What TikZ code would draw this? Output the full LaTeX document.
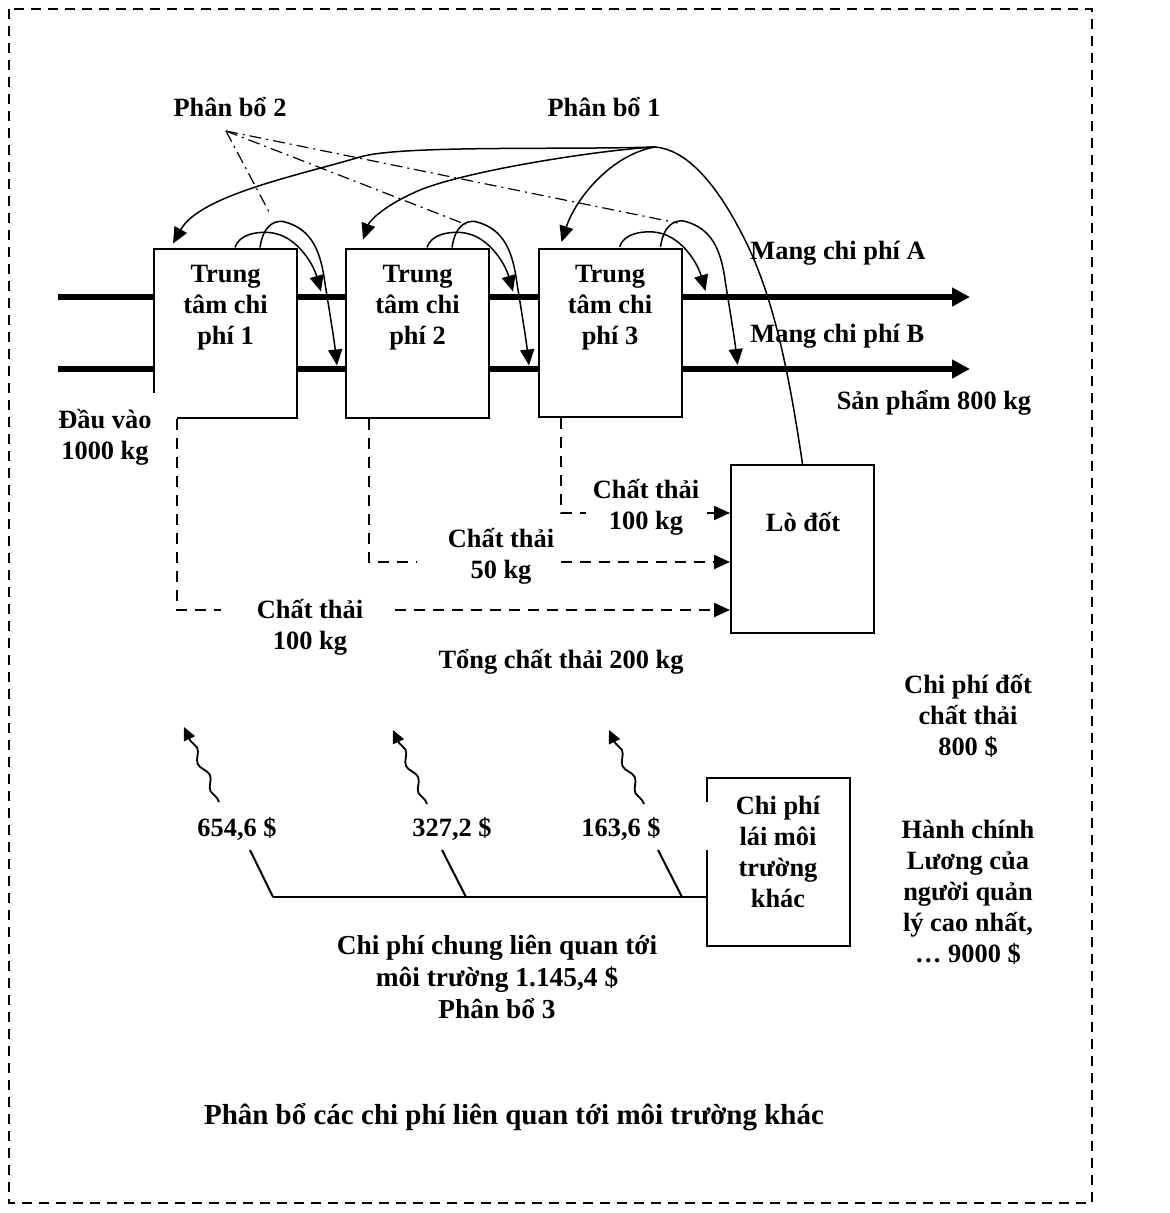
\documentclass[tikz,border=0pt]{standalone}
\usepackage{fontspec}
\setmainfont{Liberation Serif}
\usetikzlibrary{arrows.meta,calc,decorations.pathmorphing}
\begin{document}
\begin{tikzpicture}[x=0.5pt,y=-0.5pt,
 txt/.style={font=\fontsize{13.2}{15.5}\selectfont\bfseries,align=center,inner sep=0pt},
 box/.style={draw,line width=1pt,fill=white,minimum width=71.5pt,minimum height=84pt,inner sep=0pt},
 flowline/.style={line width=2.6pt,-{Triangle[length=9pt,width=9pt]}},
 curvy/.style={line width=0.75pt,-{Triangle[length=8pt,width=7pt]}},
 plaincurve/.style={line width=0.75pt},
 waste/.style={line width=1pt,dash pattern=on 5.5pt off 4pt},
 wastetip/.style={line width=1pt,dash pattern=on 5.5pt off 4pt,-{Triangle[length=8pt,width=7pt]}},
 dashdot/.style={line width=0.6pt,dash pattern=on 6pt off 2.5pt on 1pt off 2.5pt},
 thinline/.style={line width=1pt},
 wavy/.style={line width=0.9pt,decorate,decoration={snake,amplitude=1.6pt,segment length=15pt,pre length=2pt,post length=6pt},-{Triangle[length=6.5pt,width=6pt]}},
 frame/.style={line width=1.4pt,dash pattern=on 5pt off 3.5pt}]

\useasboundingbox (0,0) rectangle (1169,1213);
\draw[frame] (9,9) rectangle (1092,1203);

% main flows
\coordinate (inA) at (58,297);
\coordinate (outA) at (970,297);
\coordinate (inB) at (58,369);
\coordinate (outB) at (970,369);
\draw[flowline] (inA) -- (outA);
\draw[flowline] (inB) -- (outB);

% boxes
\node[box] (c1) at (225.5,333.5) {};
\node[box] (c2) at (417.5,333.5) {};
\node[box] (c3) at (610,333) {};
\node[box] (lo) at (802.5,549) {};
\node[box] (kh) at (778,862) {};
\fill[white] (147,393) rectangle (176.5,421);
\fill[white] (703,802) rectangle (709,850);

\node[txt] (c1t) at (225.5,308) {Trung\\tâm chi\\phí 1};
\node[txt] (c2t) at (417.5,308) {Trung\\tâm chi\\phí 2};
\node[txt] (c3t) at (610,308) {Trung\\tâm chi\\phí 3};
\node[txt] (lot) at (803,522) {Lò đốt};
\node[txt] (kht) at (778,852) {Chi phí\\lái môi\\trường\\khác};

% labels
\node[txt] (pb2) at (230,107) {Phân bổ 2};
\node[txt] (pb1) at (604,107) {Phân bổ 1};
\node[txt,anchor=west] (ma) at (750,253) {Mang chi phí A};
\node[txt,anchor=west] (mb) at (750,336) {Mang chi phí B};
\node[txt] (sp) at (934,403) {Sản phẩm 800 kg};
\node[txt] (dv) at (105,437) {Đầu vào\\1000 kg};
\node[txt] (tong) at (561,662) {Tổng chất thải 200 kg};
\node[txt] (cpd) at (968,716) {Chi phí đốt\\chất thải\\800 \$};
\node[txt] (hc) at (968,892) {Hành chính\\Lương của\\người quản\\lý cao nhất,\\… 9000 \$};
\node[txt,font=\fontsize{13.7}{16}\selectfont\bfseries] (cpc) at (497,977) {Chi phí chung liên quan tới\\môi trường 1.145,4 \$\\Phân bổ 3};
\node[txt,font=\fontsize{14.5}{17}\selectfont\bfseries] (title) at (514,1117) {Phân bổ các chi phí liên quan tới môi trường khác};

% waste flows
\node[txt] (t3) at (646,507) {Chất thải\\100 kg};
\node[txt] (t2) at (501,556) {Chất thải\\50 kg};
\node[txt] (t1) at (310,627) {Chất thải\\100 kg};
\draw[waste] ($(c1.south west)+(24,0)$) |- (221,610);
\coordinate (w1) at (395,610);
\draw[wastetip] (w1) -- (w1 -| lo.west);
\draw[waste] ($(c2.south west)+(24,0)$) |- (416,562);
\coordinate (w2) at (561,562);
\draw[wastetip] (w2) -- (w2 -| lo.west);
\draw[waste] ($(c3.south west)+(23,0)$) |- (586,513);
\coordinate (w3) at (707,513);
\draw[wastetip] (w3) -- (w3 -| lo.west);

% allocation 1: big curves
\coordinate (peak) at (655,147);
\draw[plaincurve] (lo.north) .. controls (790,380) and (775,300) .. (745,240) .. controls (720,190) and (690,150) .. (peak);
\draw[curvy] (peak) .. controls (610,155) and (575,200) .. ($(c3.north west)+(24,-6)$);
\draw[curvy] (peak) .. controls (600,150) and (470,170) .. (420,190) .. controls (385,205) and (370,220) .. ($(c2.north west)+(18,-9)$);
\draw[curvy] (peak) .. controls (560,150) and (400,145) .. (360,157) .. controls (300,175) and (200,195) .. ($(c1.north west)+(20,-5)$);

% small arcs onto the cost carriers
\foreach \b/\s in {c1/0,c2/0,c3/16}{
 \begin{scope}[shift={(\b.north east)}]
  \draw[curvy] (-63,-1) .. controls (-59,-14) and (-42,-17) .. (-29,-16) .. controls (-2,-14) and (15,15) .. (23,43);
  \draw[curvy] ({-38+\s},-1) .. controls ({-35+\s},-22) and ({-25+\s},-28) .. ({-15+\s},-27) .. controls ({15+\s},-20) and ({23+\s},5) .. ({27+\s},35) .. controls ({31+\s},60) and ({36+\s},90) .. ({39+\s},117);
 \end{scope}
}

% allocation 2: dash-dot lines
\coordinate (apex) at (226,131);
\draw[dashdot] (apex) -- ($(c1.north east)+(-27,-33)$);
\draw[dashdot] (apex) -- ($(c2.north east)+(-24,-24)$);
\draw[dashdot] (apex) -- ($(c3.north east)+(-5,-25)$);

% allocation 3
\node[txt] (v1) at (237,829) {654,6 \$};
\node[txt] (v2) at (452,829) {327,2 \$};
\node[txt] (v3) at (621,829) {163,6 \$};
\coordinate (h1) at (273,897);
\coordinate (h2) at (466,897);
\coordinate (h3) at (682,897);
\coordinate (s1) at (250,850);
\coordinate (s2) at (442,850);
\coordinate (s3) at (658,850);
\draw[thinline] (s1) -- (h1);
\draw[thinline] (s2) -- (h2);
\draw[thinline] (s3) -- (h3);
\draw[thinline] (h1) -- (h1 -| kh.west);

\coordinate (u1s) at (219,802);
\coordinate (u1e) at (184,727);
\coordinate (u2s) at (427,804);
\coordinate (u2e) at (393,730);
\coordinate (u3s) at (644,804);
\coordinate (u3e) at (609,730);
\draw[wavy] (u1s) -- (u1e);
\draw[wavy] (u2s) -- (u2e);
\draw[wavy] (u3s) -- (u3e);
\end{tikzpicture}
\end{document}
